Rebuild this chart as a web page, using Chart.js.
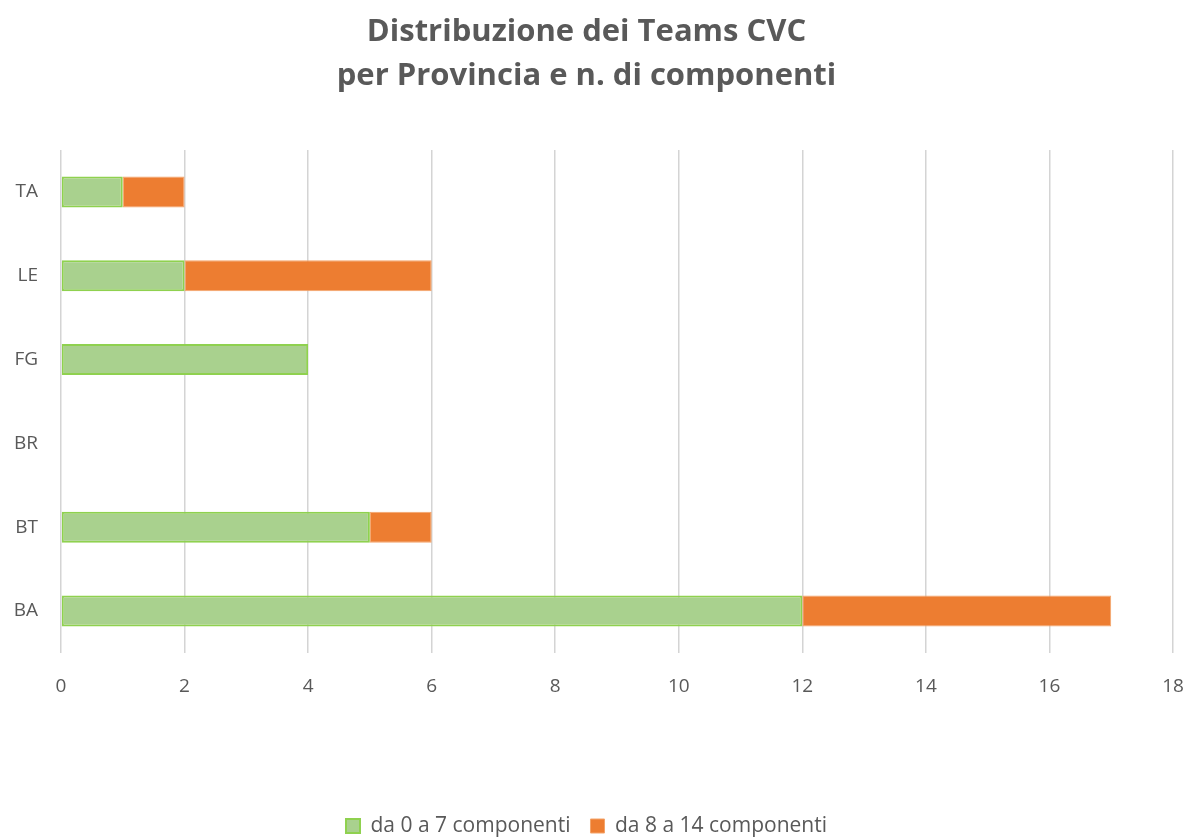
<!DOCTYPE html>
<html>
<head>
<meta charset="utf-8">
<script src="https://cdn.jsdelivr.net/npm/chart.js@4/dist/chart.umd.min.js"></script>
<style>
  html, body { margin: 0; padding: 0; background: #fff; }
  #wrap { width: 1190px; height: 837px; }
</style>
</head>
<body>
<div id="wrap"><canvas id="chart"></canvas></div>
<script>
const province = ['TA', 'LE', 'FG', 'BR', 'BT', 'BA'];
const piccoli = [1, 2, 4, 0, 5, 12];
const grandi = [1, 4, 0, 0, 1, 5];
const ticksX = [0, 2, 4, 6, 8, 10, 12, 14, 16, 18];

const grigio = '#595959';
const font = "'Open Sans', 'Noto Sans', sans-serif";

const ctx = document.getElementById('chart').getContext('2d');
new Chart(ctx, {
  type: 'bar',
  data: {
    labels: province,
    datasets: [{
      label: 'da 0 a 7 componenti',
      data: piccoli,
      backgroundColor: '#a9d18e',
      borderColor: '#8fd14f',
      borderWidth: 2,
      borderSkipped: false
    }, {
      label: 'da 8 a 14 componenti',
      data: grandi,
      backgroundColor: '#ed7d31',
      borderColor: '#f4a46a',
      borderWidth: 1,
      borderSkipped: false
    }]
  },
  options: {
    indexAxis: 'y',
    responsive: true,
    maintainAspectRatio: false,
    animation: false,
    categoryPercentage: 1,
    barPercentage: 0.37,
    layout: { padding: { left: 0, right: 17, top: 0, bottom: -9.5 } },
    scales: {
      x: {
        stacked: true,
        min: 0,
        max: 18,
        afterBuildTicks: (axis) => { axis.ticks = ticksX.map(v => ({ value: v })); },
        afterFit: (axis) => {
          axis.height = 142.5;
          axis.paddingLeft = 0;
          axis.paddingRight = 0;
        },
        grid: { color: '#d4d4d4', lineWidth: 1.5, drawTicks: false },
        border: { display: false },
        ticks: { color: grigio, font: { family: font, size: 19 }, padding: 22 }
      },
      y: {
        stacked: true,
        afterFit: (axis) => { axis.width = 61; },
        grid: { display: false },
        border: { display: false },
        ticks: { color: grigio, font: { family: font, size: 19 }, padding: 15 }
      }
    },
    plugins: {
      title: {
        display: true,
        text: ['Distribuzione dei Teams CVC', 'per Provincia e n. di componenti'],
        color: grigio,
        font: { family: font, size: 31, weight: 'bold', lineHeight: 1.42 },
        padding: { top: 10, bottom: 52 }
      },
      legend: {
        position: 'bottom',
        labels: {
          color: grigio,
          font: { family: font, size: 21 },
          boxWidth: 14,
          boxHeight: 14,
          padding: 20
        }
      },
      tooltip: { enabled: false }
    }
  }
});
</script>
</body>
</html>
